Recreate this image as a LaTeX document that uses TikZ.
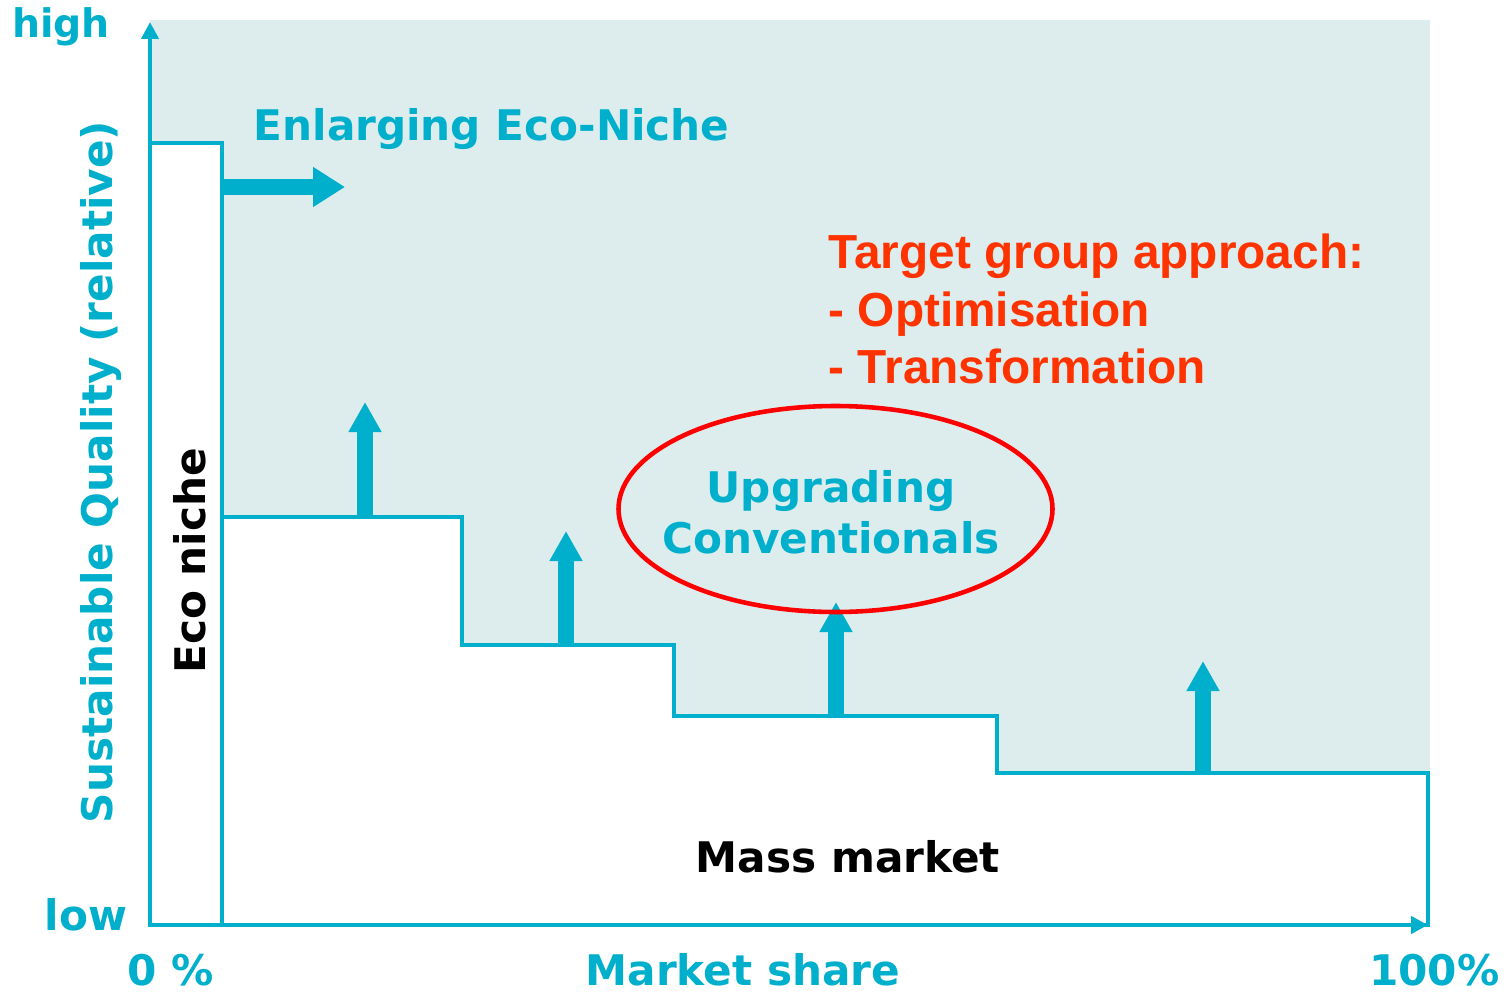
\documentclass[tikz,border=0pt]{standalone}
\usepackage{fontspec}
\setmainfont{DejaVu Sans}
\newfontfamily\arialfont{Liberation Sans}
\usetikzlibrary{shapes, calc, arrows.meta, positioning}

\definecolor{ecoteal}{HTML}{00AFCB}
\definecolor{ecoshade}{HTML}{DDEDED}
\definecolor{targetred}{HTML}{FF3300}

\begin{document}
\begin{tikzpicture}[>=latex, font=\bfseries\fontsize{12}{14.5}\selectfont,
    axis/.style={ecoteal, line width=1.2pt, -{Triangle[width=1.7mm, length=1.7mm]}},
    border/.style={ecoteal, line width=1pt, fill=white},
    fatarrow/.style={ecoteal, line width=1.6mm, -{Triangle[width=3.1mm, length=3mm]}},
    label/.style={text=ecoteal, inner sep=0pt},
    target/.style={text=targetred, inner sep=0pt, anchor=base west, font=\arialfont\bfseries\fontsize{13.6}{16}\selectfont}]
    \useasboundingbox (0,0) rectangle (15.1,9.92);
    \fill[ecoshade] (1.50,0.67) rectangle (14.30,9.72);

    % eco niche and mass market blocks
    \draw[border] (1.50,0.67) rectangle (2.22,8.49);
    \draw[border] (2.22,0.67) -- (2.22,4.75) -- (4.62,4.75) -- (4.62,3.47)
      -- (6.74,3.47) -- (6.74,2.76) -- (9.97,2.76) -- (9.97,2.19)
      -- (14.28,2.19) -- (14.28,0.67) -- cycle;

    % axes
    \coordinate (origin) at (1.50,0.67);
    \coordinate (ytop) at (1.50,9.70);
    \coordinate (xend) at (14.28,0.67);
    \draw[axis] (origin) -- (ytop);
    \draw[axis] (origin) -- (xend);

    % upgrade arrows
    \foreach \x/\yb/\yt [count=\i] in {3.65/4.75/5.90, 5.66/3.47/4.61, 8.36/2.76/3.90, 12.03/2.19/3.31} {
        \coordinate (up\i-base) at (\x,\yb);
        \coordinate (up\i-tip) at (\x,\yt);
        \draw[fatarrow] (up\i-base) -- (up\i-tip);
    };
    \coordinate (enl-base) at (2.22,8.05);
    \coordinate (enl-tip) at (3.45,8.05);
    \draw[fatarrow, -{Triangle[width=3.8mm, length=3.2mm]}] (enl-base) -- (enl-tip);

    \coordinate (upg-c) at (8.355,4.83);
    \draw[red, line width=1.3pt] (upg-c) ellipse (2.17 and 1.03);
    \node[label, align=center] (upgrade) at (8.31,4.80) {Upgrading\\Conventionals};

    % texts
    \node[label, font=\bfseries\fontsize{11.2}{13}\selectfont] (high) at (0.61,9.65) {high};
    \node[label, anchor=base] (low) at (0.86,0.62) {low};
    \node[label, anchor=base] (zero) at (1.71,0.07) {0 \%};
    \node[label, anchor=base] (share) at (7.43,0.07) {Market share};
    \node[label, anchor=base east] (full) at (15.00,0.07) {100\%};
    \node[label, anchor=base, rotate=90] (quality) at (1.12,5.20) {Sustainable Quality (relative)};
    \node[label, anchor=base west] (enlarge) at (2.53,8.52) {Enlarging Eco-Niche};
    \node[inner sep=0pt, anchor=base, rotate=90] (niche) at (2.05,4.31) {Eco niche};
    \node[inner sep=0pt, anchor=base] (mass) at (8.48,1.20) {Mass market};

    \node[target] (tg1) at (8.28,7.24) {Target group approach:};
    \node[target] (tg2) at (8.28,6.66) {- Optimisation};
    \node[target] (tg3) at (8.28,6.09) {- Transformation};
\end{tikzpicture}
\end{document}
